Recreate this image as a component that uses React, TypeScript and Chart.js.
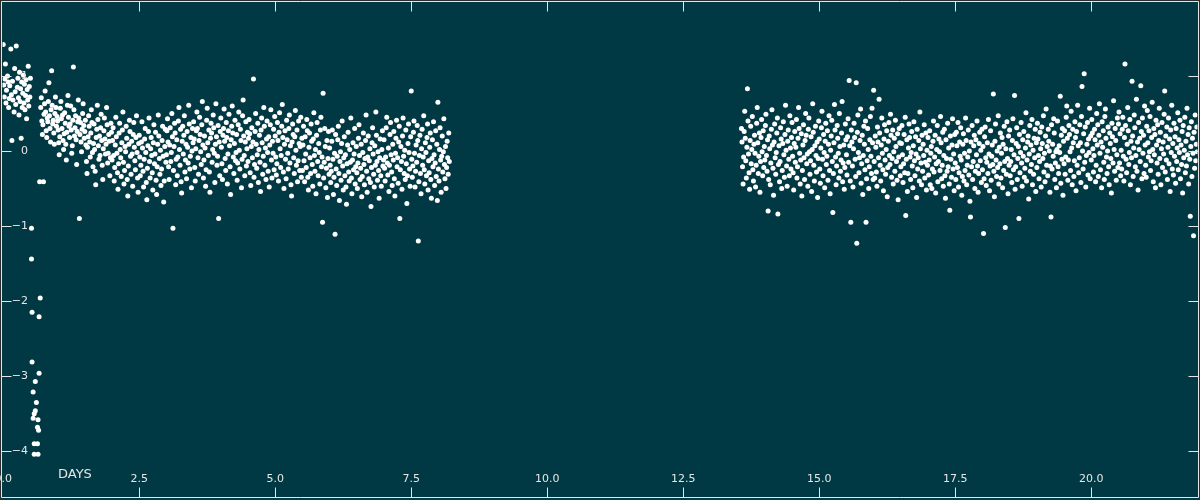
import React, { useEffect, useRef } from "react";
import { Chart, registerables } from "chart.js";

Chart.register(...registerables);

// ---- axis / tick data ----
const X_TICKS = [0, 2.5, 5, 7.5, 10, 12.5, 15, 17.5, 20];
const X_TICK_LABELS = ["0.0", "2.5", "5.0", "7.5", "10.0", "12.5", "15.0", "17.5", "20.0"];
const Y_TICKS = [1, 0, -1, -2, -3, -4];
const Y_TICK_LABELS = ["1", "0", "\u22121", "\u22122", "\u22123", "\u22124"];
const X_TITLE = "DAYS";
const X_MIN = -0.013;
const X_MAX = 21.953;
const Y_MIN = -4.617;
const Y_MAX = 1.979;

// ---- series (time in 0.01 day, flux in 0.01 units) ----
const preTransitTimes = [0,1,2,3,4,5,6,8,9,10,11,12,14,15,16,17,18,20,21,22,23,24,26,27,28,29,30,31,32,33,34,35,36,37,38,39,40,41,42,43,44,45,46,47,48,49,50];
const preTransitFlux = [142,88,72,96,116,64,81,100,92,58,70,87,136,75,14,93,68,52,110,79,62,140,85,97,71,48,105,66,83,17,92,58,77,101,64,89,55,74,95,43,82,68,113,60,86,72,97];

const transitTimes = [52,52,53,53,55,55,57,57,57,59,59,61,63,63,64,64,65,66,66,67,68];
const transitFlux = [-103,-144,-215,-281,-321,-356,-350,-390,-404,-307,-346,-335,-390,-368,-404,-358,-372,-221,-296,-41,-196];

const leftBandTimes = [
69,70,71,72,73,74,75,76,77,78,79,80,81,82,83,84,85,86,87,88,89,90,91,92,93,94,95,96,97,98,99,
100,101,102,103,104,105,106,107,108,109,110,111,112,113,114,115,116,117,118,119,
120,121,122,123,124,125,126,127,128,129,130,131,132,133,134,135,136,137,138,139,
140,141,142,143,144,145,146,147,148,149,150,151,152,153,154,155,156,157,158,159,
160,161,162,163,164,165,166,167,168,169,170,171,172,173,174,175,176,177,178,179,
180,181,182,183,184,185,186,187,188,189,190,191,192,193,194,195,196,197,198,199,
200,201,202,203,204,205,206,207,208,209,210,211,212,213,214,215,216,217,218,219,
220,221,222,223,224,225,226,227,228,229,230,231,232,233,234,235,236,237,238,239,
240,241,242,243,244,245,246,247,248,249,250,251,252,253,254,255,256,257,258,259,
260,261,262,263,264,265,266,267,268,269,270,271,272,273,274,275,276,277,278,279,
280,281,282,283,284,285,286,287,288,289,290,291,292,293,294,295,296,297,298,299,
300,301,302,303,304,305,306,307,308,309,310,311,312,313,314,315,316,317,318,319,
320,321,322,323,324,325,326,327,328,329,330,331,332,333,334,335,336,337,338,339,
340,341,342,343,344,345,346,347,348,349,350,351,352,353,354,355,356,357,358,359,
360,361,362,363,364,365,366,367,368,369,370,371,372,373,374,375,376,377,378,379,
380,381,382,383,384,385,386,387,388,389,390,391,392,393,394,395,396,397,398,399,
400,401,402,403,404,405,406,407,408,409,410,411,412,413,414,415,416,417,418,419,
420,421,422,423,424,425,426,427,428,429,430,431,432,433,434,435,436,437,438,439,
440,441,442,443,444,445,446,447,448,449,450,451,452,453,454,455,456,457,458,459,
460,461,462,463,464,465,466,467,468,469,470,471,472,473,474,475,476,477,478,479,
480,481,482,483,484,485,486,487,488,489,490,491,492,493,494,495,496,497,498,499,
500,501,502,503,504,505,506,507,508,509,510,511,512,513,514,515,516,517,518,519,
520,521,522,523,524,525,526,527,528,529,530,531,532,533,534,535,536,537,538,539,
540,541,542,543,544,545,546,547,548,549,550,551,552,553,554,555,556,557,558,559,
560,561,562,563,564,565,566,567,568,569,570,571,572,573,574,575,576,577,578,579,
580,581,582,583,584,585,586,587,588,589,590,591,592,593,594,595,596,597,598,599,
600,601,602,603,604,605,606,607,608,609,610,611,612,613,614,615,616,617,618,619,
620,621,622,623,624,625,626,627,628,629,630,631,632,633,634,635,636,637,638,639,
640,641,642,643,644,645,646,647,648,649,650,651,652,653,654,655,656,657,658,659,
660,661,662,663,664,665,666,667,668,669,670,671,672,673,674,675,676,677,678,679,
680,681,682,683,684,685,686,687,688,689,690,691,692,693,694,695,696,697,698,699,
700,701,702,703,704,705,706,707,708,709,710,711,712,713,714,715,716,717,718,719,
720,721,722,723,724,725,726,727,728,729,730,731,732,733,734,735,736,737,738,739,
740,741,742,743,744,745,746,747,748,749,750,751,752,753,754,755,756,757,758,759,
760,761,762,763,764,765,766,767,768,769,770,771,772,773,774,775,776,777,778,779,
780,781,782,783,784,785,786,787,788,789,790,791,792,793,794,795,796,797,798,799,
800,801,802,803,804,805,806,807,808,809,810,811,812,813,814,815,816,817,818,819,820
];
const leftBandFlux = [
58,71,40,22,35,-41,49,63,80,52,27,18,44,39,66,91,47,30,12,55,107,61,36,41,24,9,50,72,58,33,46,
40,28,11,-5,19,57,66,43,30,48,14,2,23,51,37,9,-12,25,61,74,45,33,18,36,60,28,-3,7,41,112,55,20,31,47,15,-18,26,39,68,44,-90,22,38,12,-1,29,50,63,34,17,
26,41,8,-14,-30,5,19,47,33,12,-8,24,55,38,-2,-21,10,36,2,-27,-45,18,29,61,42,7,-11,20,-6,31,49,14,-19,-38,3,27,44,16,-4,9,58,35,-16,-3,22,13,-33,-9,37,25,
-12,14,31,-6,-40,-22,8,45,19,-3,-29,-51,-17,24,37,2,-9,-34,11,28,52,-15,-44,-26,6,-1,33,17,-38,-60,-20,9,41,26,-7,-31,13,-4,-47,22,38,5,-13,-25,18,47,-2,-36,-55,10,
21,-8,-33,-19,12,39,4,-27,-48,-11,16,30,-2,-42,-65,-23,7,26,44,-14,-36,3,18,-6,-29,-52,11,35,-17,-4,25,-39,-58,-21,9,48,20,-10,-31,1,-46,-24,14,33,-7,-68,-40,6,29,-15,
-5,27,43,12,-21,-38,8,31,-14,-2,50,19,-103,-26,6,37,24,-45,-11,15,-33,-8,40,58,2,-19,29,-41,-56,13,33,-4,21,47,-28,-12,9,-37,26,5,-16,61,36,-24,-7,18,-49,0,30,11,
39,16,-22,-40,3,27,52,30,-9,-31,14,45,22,-1,-18,35,66,8,-36,-12,20,4,-47,-25,41,57,11,-6,28,-28,-55,17,37,24,-15,2,48,31,-3,-42,9,63,19,-19,-7,34,-90,12,-33,26,
44,5,-17,-38,21,30,56,13,-10,-26,38,18,-44,-4,27,49,7,-21,-58,15,33,60,24,-8,-30,10,41,-13,-2,22,-39,-16,35,52,1,-24,29,14,-49,-11,47,68,20,-6,-33,12,39,-20,3,25,
-14,17,42,23,-29,-46,6,31,-9,12,96,-35,-18,26,50,9,-23,-5,37,-42,2,21,-15,-54,28,44,11,-31,-7,58,33,-19,4,-38,16,40,-2,-27,19,-48,8,35,55,-12,-36,13,-3,29,-25,46,
20,-8,-32,-17,38,14,-40,25,51,3,-22,-6,33,62,18,-28,-50,9,27,-11,-37,41,15,-3,-24,30,48,-16,7,-45,-60,12,36,22,-9,-30,19,54,1,-19,28,-41,-13,40,10,-26,6,45,-35,17,
-26,8,33,-13,-41,19,-4,-22,42,27,-35,-52,5,24,-9,-30,36,13,-18,-47,16,51,-6,-27,2,-57,21,38,-14,-33,10,-2,-44,28,45,-21,-8,-95,77,-36,-15,30,6,-49,-23,14,-62,-10,26,-31,
4,-19,-42,-27,13,28,-11,-58,-35,-3,-111,22,-24,-46,-7,15,33,-30,-66,-14,-1,-39,10,40,-20,-52,-9,19,-33,-5,-48,-71,-17,8,25,-28,-40,2,-15,44,-36,-57,-12,11,-25,-4,30,-44,-21,6,
-29,-50,-16,17,35,-6,-38,-23,9,-61,-34,-2,24,-18,-45,-10,14,48,-27,-55,-8,20,-37,-13,3,-42,-74,-22,11,31,-4,-31,-48,7,-19,52,21,-14,-39,-1,-26,-63,-9,16,-33,-47,2,27,-20,-12,
15,-23,-40,-8,31,45,-16,-32,4,-54,-19,22,38,-5,-28,-46,9,-12,26,-37,-60,-3,17,41,-21,-9,-43,12,33,-90,-25,6,-14,-51,20,44,-7,-30,1,-38,28,-17,-70,-33,10,36,-2,-24,-47,19,
80,-11,-35,-20,25,40,-3,-48,-27,8,-15,34,14,-120,-41,-6,21,-30,-57,3,29,-19,-8,47,-25,-44,11,-2,-33,18,36,-52,-13,-29,5,24,-38,-63,-10,15,-21,39,-5,-46,-16,27,-34,9,-66,65,-24,-40,2,31,-12,-55,-7,20,-28,-1,43,-18,-37,6,-50,-22,13,-9,-31,24,-14
];

const rightBandTimes = [
1357,1358,1359,1360,1361,1362,1363,1364,1365,1366,1367,1368,1369,1370,1371,1372,1373,1374,1375,1376,1377,1378,1379,1380,1381,1382,1383,1384,1385,1386,1387,1388,1389,1390,1391,1392,1393,1394,1395,1396,1397,1398,1399,
1400,1401,1402,1403,1404,1405,1406,1407,1408,1409,1410,1411,1412,1413,1414,1415,1416,1417,1418,1419,
1420,1421,1422,1423,1424,1425,1426,1427,1428,1429,1430,1431,1432,1433,1434,1435,1436,1437,1438,1439,
1440,1441,1442,1443,1444,1445,1446,1447,1448,1449,1450,1451,1452,1453,1454,1455,1456,1457,1458,1459,
1460,1461,1462,1463,1464,1465,1466,1467,1468,1469,1470,1471,1472,1473,1474,1475,1476,1477,1478,1479,
1480,1481,1482,1483,1484,1485,1486,1487,1488,1489,1490,1491,1492,1493,1494,1495,1496,1497,1498,1499,
1500,1501,1502,1503,1504,1505,1506,1507,1508,1509,1510,1511,1512,1513,1514,1515,1516,1517,1518,1519,
1520,1521,1522,1523,1524,1525,1526,1527,1528,1529,1530,1531,1532,1533,1534,1535,1536,1537,1538,1539,
1540,1541,1542,1543,1544,1545,1546,1547,1548,1549,1550,1551,1552,1553,1554,1555,1556,1557,1558,1559,
1560,1561,1562,1563,1564,1565,1566,1567,1568,1569,1570,1571,1572,1573,1574,1575,1576,1577,1578,1579,
1580,1581,1582,1583,1584,1585,1586,1587,1588,1589,1590,1591,1592,1593,1594,1595,1596,1597,1598,1599,
1600,1601,1602,1603,1604,1605,1606,1607,1608,1609,1610,1611,1612,1613,1614,1615,1616,1617,1618,1619,
1620,1621,1622,1623,1624,1625,1626,1627,1628,1629,1630,1631,1632,1633,1634,1635,1636,1637,1638,1639,
1640,1641,1642,1643,1644,1645,1646,1647,1648,1649,1650,1651,1652,1653,1654,1655,1656,1657,1658,1659,
1660,1661,1662,1663,1664,1665,1666,1667,1668,1669,1670,1671,1672,1673,1674,1675,1676,1677,1678,1679,
1680,1681,1682,1683,1684,1685,1686,1687,1688,1689,1690,1691,1692,1693,1694,1695,1696,1697,1698,1699,
1700,1701,1702,1703,1704,1705,1706,1707,1708,1709,1710,1711,1712,1713,1714,1715,1716,1717,1718,1719,
1720,1721,1722,1723,1724,1725,1726,1727,1728,1729,1730,1731,1732,1733,1734,1735,1736,1737,1738,1739,
1740,1741,1742,1743,1744,1745,1746,1747,1748,1749,1750,1751,1752,1753,1754,1755,1756,1757,1758,1759,
1760,1761,1762,1763,1764,1765,1766,1767,1768,1769,1770,1771,1772,1773,1774,1775,1776,1777,1778,1779,
1780,1781,1782,1783,1784,1785,1786,1787,1788,1789,1790,1791,1792,1793,1794,1795,1796,1797,1798,1799,
1800,1801,1802,1803,1804,1805,1806,1807,1808,1809,1810,1811,1812,1813,1814,1815,1816,1817,1818,1819,
1820,1821,1822,1823,1824,1825,1826,1827,1828,1829,1830,1831,1832,1833,1834,1835,1836,1837,1838,1839,
1840,1841,1842,1843,1844,1845,1846,1847,1848,1849,1850,1851,1852,1853,1854,1855,1856,1857,1858,1859,
1860,1861,1862,1863,1864,1865,1866,1867,1868,1869,1870,1871,1872,1873,1874,1875,1876,1877,1878,1879,
1880,1881,1882,1883,1884,1885,1886,1887,1888,1889,1890,1891,1892,1893,1894,1895,1896,1897,1898,1899,
1900,1901,1902,1903,1904,1905,1906,1907,1908,1909,1910,1911,1912,1913,1914,1915,1916,1917,1918,1919,
1920,1921,1922,1923,1924,1925,1926,1927,1928,1929,1930,1931,1932,1933,1934,1935,1936,1937,1938,1939,
1940,1941,1942,1943,1944,1945,1946,1947,1948,1949,1950,1951,1952,1953,1954,1955,1956,1957,1958,1959,
1960,1961,1962,1963,1964,1965,1966,1967,1968,1969,1970,1971,1972,1973,1974,1975,1976,1977,1978,1979,
1980,1981,1982,1983,1984,1985,1986,1987,1988,1989,1990,1991,1992,1993,1994,1995,1996,1997,1998,1999,
2000,2001,2002,2003,2004,2005,2006,2007,2008,2009,2010,2011,2012,2013,2014,2015,2016,2017,2018,2019,
2020,2021,2022,2023,2024,2025,2026,2027,2028,2029,2030,2031,2032,2033,2034,2035,2036,2037,2038,2039,
2040,2041,2042,2043,2044,2045,2046,2047,2048,2049,2050,2051,2052,2053,2054,2055,2056,2057,2058,2059,
2060,2061,2062,2063,2064,2065,2066,2067,2068,2069,2070,2071,2072,2073,2074,2075,2076,2077,2078,2079,
2080,2081,2082,2083,2084,2085,2086,2087,2088,2089,2090,2091,2092,2093,2094,2095,2096,2097,2098,2099,
2100,2101,2102,2103,2104,2105,2106,2107,2108,2109,2110,2111,2112,2113,2114,2115,2116,2117,2118,2119,
2120,2121,2122,2123,2124,2125,2126,2127,2128,2129,2130,2131,2132,2133,2134,2135,2136,2137,2138,2139,
2140,2141,2142,2143,2144,2145,2146,2147,2148,2149,2150,2151,2152,2153,2154,2155,2156,2157,2158,2159,
2160,2161,2162,2163,2164,2165,2166,2167,2168,2169,2170,2171,2172,2173,2174,2175,2176,2177,2178,2179,
2180,2181,2182,2183,2184,2185,2186,2187,2188,2189,2190,2191,2192,2193,2194,2195
];
const rightBandFlux = [
30,12,-21,-44,-8,26,53,17,-13,-36,5,83,40,-4,-29,-51,14,33,-17,2,46,-25,-40,9,21,-3,-48,-19,37,58,11,-30,-7,24,-55,-14,18,42,-1,-33,27,-22,6,
-12,34,49,-6,-27,15,-80,-38,20,3,-45,-16,29,55,8,-23,-59,12,36,-9,-31,-2,24,44,-84,-18,7,-41,-14,31,16,-50,-26,10,39,-5,-35,22,61,1,-20,-47,13,28,-11,-33,47,4,-24,18,
38,-7,-29,-52,10,26,-15,5,42,-36,-21,17,58,30,-3,-44,-12,23,-60,-26,8,35,-9,-38,14,50,21,-17,-4,-47,29,44,-1,-31,-13,19,-54,2,63,25,-19,-40,7,33,-6,-28,12,-62,-10,40,
16,-24,-43,4,31,53,-11,-33,22,-2,-49,13,37,-18,-7,27,-39,9,47,-26,-57,1,20,41,-14,-82,-30,11,62,28,-8,-45,-20,34,17,-3,-36,50,6,-27,-12,24,66,-41,-16,8,-51,-22,36,15,
-5,-32,19,43,-15,94,7,-40,-95,28,12,-20,-48,3,37,18,-11,-34,91,-123,25,48,-2,-29,-9,14,56,-43,-17,21,-58,-6,33,9,-25,40,-95,-37,-13,30,2,-50,-21,15,46,-7,-30,57,11,-38,
81,-14,-36,20,5,-28,-47,32,12,-9,69,24,-19,-40,8,44,-3,-25,-53,16,35,-12,-31,2,27,-61,-22,13,38,-6,-18,49,21,-35,-10,28,-44,-1,17,-27,41,6,-14,-39,23,-65,-8,30,11,-33,
-21,10,34,-5,-42,-17,22,-29,45,-86,-11,15,-54,-30,4,36,18,-8,-38,-2,26,-20,-49,7,39,-13,-33,19,-4,-62,29,-24,-9,14,-40,52,3,-16,-45,21,-27,9,-6,35,-36,-15,24,-52,1,-19,
18,-32,-12,27,-45,-3,6,-50,-24,13,40,-28,-8,21,-56,-17,2,34,-41,-14,16,-1,-26,46,11,-37,-19,25,-47,-6,29,-33,-63,15,-10,-27,37,-21,4,-44,-79,20,-11,-35,8,43,-24,-4,-53,22,
-16,-38,25,7,-22,38,-48,-29,12,-7,31,-12,-59,-34,9,23,-40,-3,-26,44,14,-45,-19,-8,28,-32,0,-67,-88,12,-21,34,-38,-14,7,21,-50,-27,15,-5,40,-20,-55,-30,10,25,-13,1,-42,29,
-25,6,-110,-37,19,32,-9,-46,-15,11,-30,42,-4,-53,-20,27,-39,-7,8,-18,76,-27,-61,13,36,-12,-34,0,-22,47,-44,5,-17,24,-36,-3,18,-49,9,-26,33,-14,-102,3,-31,39,-10,-57,20,-19,
28,-33,-14,2,-42,14,43,-25,-5,74,-51,-21,10,31,-38,-10,6,-90,22,-29,-2,38,-16,-47,15,-7,26,-35,-23,4,51,-40,-12,12,20,-64,-4,34,-27,8,-18,42,-45,1,-31,17,-9,29,-54,11,
-22,37,16,-6,-37,-14,25,3,-48,32,10,-10,47,-28,-3,-41,20,56,-19,6,-33,29,13,0,-55,-20,-88,35,-24,9,-7,43,24,-38,-16,-1,-49,2,40,-21,-30,7,-2,73,-43,21,-11,30,-59,13,
-17,27,-31,-8,45,60,17,-39,-12,34,22,-1,-26,53,4,-45,29,11,-34,-13,39,18,-53,26,-19,61,7,-29,-9,35,11,-42,46,86,0,-24,23,103,-15,32,-48,-6,9,38,-32,16,-2,57,-37,20,
-12,42,24,3,-28,-6,29,15,-41,-19,50,8,35,-34,21,63,-3,-25,12,-49,39,5,27,-15,-38,46,56,17,-8,-30,0,32,-21,-45,24,10,-10,-56,37,19,-16,67,2,-27,30,14,-39,-5,44,-22,
36,52,-16,23,-33,1,-24,29,45,-7,-40,18,116,34,-11,-29,9,58,27,-18,-2,42,-45,13,-9,93,20,-34,4,48,31,-21,-6,69,-27,12,-52,38,2,17,-14,87,26,-37,44,-3,21,-30,60,8,
-19,-35,33,54,11,-8,27,-1,46,-26,-13,18,65,2,-41,30,-5,22,-49,41,8,-16,35,-31,14,57,-10,25,-45,3,38,-22,12,-4,49,80,-28,20,-12,32,-38,5,44,-17,16,-54,28,-2,61,-24,
10,-32,37,-7,19,-43,30,-14,4,51,-25,15,-2,41,-37,8,-18,26,-56,34,-9,1,45,-29,13,-20,57,-5,22,-44,31,-11,-87,6,39,-34,17,-3,-113,25,-23,48,-13,9,32,-1
];

// ---- styling ----
const BG = "#003943";
const OUTER = "#2d2d2d";
const FG = "#e6e6e6";
const POINT = "#ffffff";
const TICK_FONT = '11px "DejaVu Sans", sans-serif';
const TITLE_FONT = '13px "DejaVu Sans", sans-serif';

function toPoints(times: number[], flux: number[]) {
  const n = Math.min(times.length, flux.length);
  const out: { x: number; y: number }[] = [];
  for (let i = 0; i < n; i++) out.push({ x: times[i] / 100, y: flux[i] / 100 });
  return out;
}

const axesPlugin = {
  id: "lcAxes",
  beforeDraw(chart: any) {
    const { ctx, width, height } = chart;
    ctx.save();
    ctx.fillStyle = OUTER;
    ctx.fillRect(0, 0, width, height);
    ctx.fillStyle = BG;
    ctx.fillRect(1, 1, width - 2, height - 2);
    ctx.restore();
  },
  afterDatasetsDraw(chart: any) {
    const { ctx, width, height } = chart;
    const xs = chart.scales.x;
    const ys = chart.scales.y;
    const left = 1.5;
    const right = width - 1.5;
    const top = 1.5;
    const bottom = height - 2.5;
    ctx.save();
    ctx.strokeStyle = FG;
    ctx.lineWidth = 1;
    ctx.beginPath();
    ctx.rect(left, top, right - left, bottom - top);
    ctx.stroke();

    const tick = 10;
    ctx.beginPath();
    Y_TICKS.forEach((v) => {
      const py = Math.round(ys.getPixelForValue(v)) + 0.5;
      ctx.moveTo(left, py);
      ctx.lineTo(left + tick, py);
      ctx.moveTo(right, py);
      ctx.lineTo(right - tick, py);
    });
    X_TICKS.forEach((v) => {
      const px = Math.round(xs.getPixelForValue(v)) + 0.5;
      if (px < 4) return;
      ctx.moveTo(px, bottom);
      ctx.lineTo(px, bottom - tick);
      ctx.moveTo(px, top);
      ctx.lineTo(px, top + tick);
    });
    ctx.stroke();

    ctx.fillStyle = FG;
    ctx.font = TICK_FONT;
    ctx.textAlign = "right";
    ctx.textBaseline = "middle";
    Y_TICKS.forEach((v, i) => {
      const py = ys.getPixelForValue(v);
      ctx.fillText(Y_TICK_LABELS[i], 28, py);
    });
    ctx.textAlign = "center";
    X_TICKS.forEach((v, i) => {
      const px = xs.getPixelForValue(v);
      ctx.fillText(X_TICK_LABELS[i], px, 479.5);
    });
    ctx.font = TITLE_FONT;
    ctx.textAlign = "left";
    ctx.fillText(X_TITLE, 58, 474.5);
    ctx.restore();
  },
};

export default function App() {
  const ref = useRef<HTMLCanvasElement | null>(null);
  useEffect(() => {
    if (!ref.current) return;
    const data = [
      ...toPoints(preTransitTimes, preTransitFlux),
      ...toPoints(transitTimes, transitFlux),
      ...toPoints(leftBandTimes, leftBandFlux),
      ...toPoints(rightBandTimes, rightBandFlux),
    ];
    const chart = new Chart(ref.current, {
      type: "scatter",
      data: {
        datasets: [
          {
            data,
            backgroundColor: POINT,
            borderWidth: 0,
            pointRadius: 2.5,
            pointHoverRadius: 2.5,
          },
        ],
      },
      options: {
        responsive: false,
        animation: false,
        events: [],
        layout: { padding: 0 },
        plugins: { legend: { display: false }, tooltip: { enabled: false } },
        scales: {
          x: { type: "linear", min: X_MIN, max: X_MAX, display: false },
          y: { type: "linear", min: Y_MIN, max: Y_MAX, display: false },
        },
      },
      plugins: [axesPlugin],
    });
    return () => chart.destroy();
  }, []);
  return (
    <div style={{ position: "fixed", left: 0, top: 0, width: 1200, height: 500 }}>
      <canvas ref={ref} width={1200} height={500} style={{ display: "block" }} />
    </div>
  );
}
